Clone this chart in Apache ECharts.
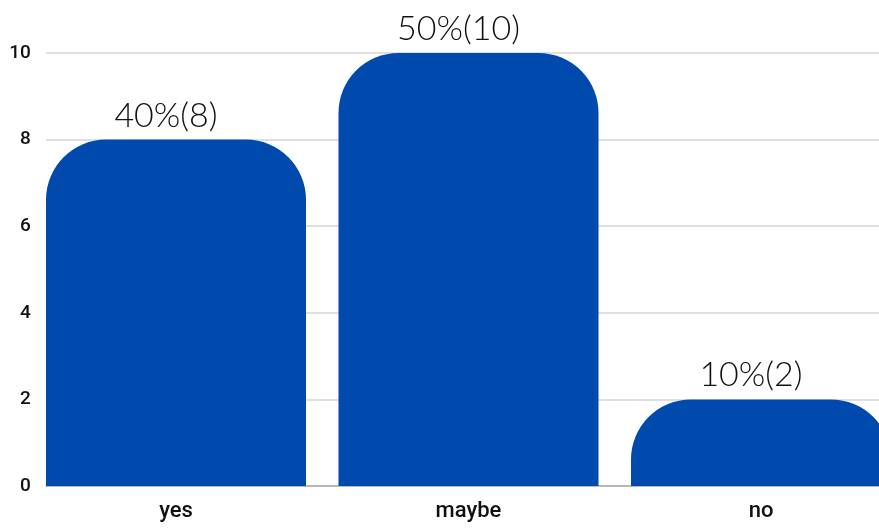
<!DOCTYPE html>
<html>
<head>
<meta charset="utf-8">
<script src="https://cdn.jsdelivr.net/npm/echarts@6/dist/echarts.min.js"></script>
<style>
  html, body { margin: 0; padding: 0; background: #fff; }
  #chart { width: 879px; height: 528px; }
</style>
</head>
<body>
<div id="chart"></div>
<script>
// Survey answers
const categories = ['yes', 'maybe', 'no'];
const counts = [8, 10, 2];
const shares = [40, 50, 10];
const yTicks = [0, 2, 4, 6, 8, 10];

const chart = echarts.init(document.getElementById('chart'));

const yMin = yTicks[0];
const yMax = yTicks[yTicks.length - 1];
const yStep = yTicks[1] - yTicks[0];

chart.setOption({
  animation: false,
  grid: [
    // bars and category labels; the last band runs past the right edge
    { left: 29.75, width: 877.5, top: 53, bottom: 42, containLabel: false, outerBoundsMode: 'none' },
    // guide lines, which start at the first bar's edge
    { left: 46, right: 0, top: 53, bottom: 42, containLabel: false, outerBoundsMode: 'none' }
  ],
  xAxis: [
    {
      gridIndex: 0,
      type: 'category',
      data: categories,
      axisLine: { show: false },
      axisTick: { show: false },
      axisLabel: {
        margin: 14,
        color: '#111',
        fontFamily: 'Roboto',
        fontWeight: 500,
        fontSize: 22
      }
    },
    {
      gridIndex: 1,
      type: 'value',
      min: 0,
      max: 1,
      axisLine: { show: true, lineStyle: { color: '#ababab', width: 1.5 } },
      axisTick: { show: false },
      axisLabel: { show: false },
      splitLine: { show: false }
    }
  ],
  yAxis: [
    {
      gridIndex: 0,
      type: 'value',
      min: yMin,
      max: yMax,
      interval: yStep,
      axisLine: { show: false },
      axisTick: { show: false },
      splitLine: { show: false },
      axisLabel: {
        margin: -1,
        color: '#111',
        fontFamily: 'Roboto',
        fontWeight: 500,
        fontSize: 19
      }
    },
    {
      gridIndex: 1,
      type: 'value',
      min: yMin,
      max: yMax,
      interval: yStep,
      axisLine: { show: false },
      axisTick: { show: false },
      axisLabel: { show: false },
      splitLine: { show: true, lineStyle: { color: '#d6d6d6', width: 1.5 } }
    }
  ],
  series: [
    {
      type: 'bar',
      xAxisIndex: 0,
      yAxisIndex: 0,
      data: counts,
      barWidth: 260,
      itemStyle: {
        color: '#004AAD',
        borderRadius: [60, 60, 0, 0]
      },
      label: {
        show: true,
        position: 'top',
        distance: 7,
        offset: [-10, 0],
        color: '#111',
        fontFamily: 'Lato',
        fontWeight: 300,
        fontSize: 34,
        formatter: p => shares[p.dataIndex] + '%(' + counts[p.dataIndex] + ')'
      }
    }
  ]
});
</script>
</body>
</html>
